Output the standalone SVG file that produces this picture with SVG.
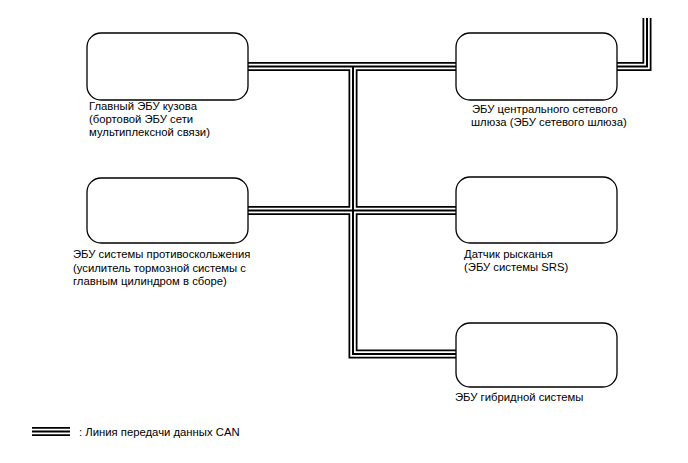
<svg xmlns="http://www.w3.org/2000/svg" width="688" height="463" viewBox="0 0 688 463">
<style>
.box{fill:#fff;stroke:#000;stroke-width:1.3}
.c1{fill:none;stroke:#000;stroke-width:9;stroke-linejoin:miter;stroke-linecap:butt}
.c2{fill:none;stroke:#fff;stroke-width:5.5;stroke-linejoin:miter;stroke-linecap:butt}
.c3{fill:none;stroke:#000;stroke-width:2;stroke-linejoin:miter;stroke-linecap:butt}
text{font-family:"Liberation Sans",Arial,sans-serif;font-size:11.3px;fill:#000}
</style>
<defs>
<path id="p1" d="M248,66.5 H456"/>
<path id="p2" d="M353,66.5 V354 H456"/>
<path id="p3" d="M248,210.5 H456"/>
<path id="p4" d="M617,66.5 H647 V18"/>
<path id="p5" d="M32,431.5 H70"/>
</defs>
<g id="connectors">
<use href="#p1" class="c1"/><use href="#p2" class="c1"/><use href="#p3" class="c1"/><use href="#p4" class="c1"/><use href="#p5" class="c1"/>
<use href="#p1" class="c2"/><use href="#p2" class="c2"/><use href="#p3" class="c2"/><use href="#p4" class="c2"/><use href="#p5" class="c2"/>
<use href="#p1" class="c3"/><use href="#p2" class="c3"/><use href="#p3" class="c3"/><use href="#p4" class="c3"/><use href="#p5" class="c3"/>
</g>
<g id="body-ecu">
<rect class="box" x="87" y="33" width="161" height="67" rx="14"/>
<text x="89" y="110">Главный ЭБУ кузова</text>
<text x="89" y="123">(бортовой ЭБУ сети</text>
<text x="89" y="136">мультиплексной связи)</text>
</g>
<g id="gateway-ecu">
<rect class="box" x="456" y="33" width="161" height="67" rx="14"/>
<text x="472" y="113">ЭБУ центрального сетевого</text>
<text x="471" y="126">шлюза (ЭБУ сетевого шлюза)</text>
</g>
<g id="skid-ecu">
<rect class="box" x="87" y="178" width="161" height="65" rx="14"/>
<text x="73" y="258">ЭБУ системы противоскольжения</text>
<text x="73" y="271.5">(усилитель тормозной системы с</text>
<text x="73" y="285">главным цилиндром в сборе)</text>
</g>
<g id="yaw-sensor">
<rect class="box" x="456" y="177" width="161" height="66" rx="14"/>
<text x="464" y="257.5">Датчик рысканья</text>
<text x="464" y="271">(ЭБУ системы SRS)</text>
</g>
<g id="hybrid-ecu">
<rect class="box" x="456" y="323" width="161" height="64" rx="14"/>
<text x="455" y="401">ЭБУ гибридной системы</text>
</g>
<g id="legend">
<text x="79" y="435.5">: Линия передачи данных CAN</text>
</g>
</svg>
